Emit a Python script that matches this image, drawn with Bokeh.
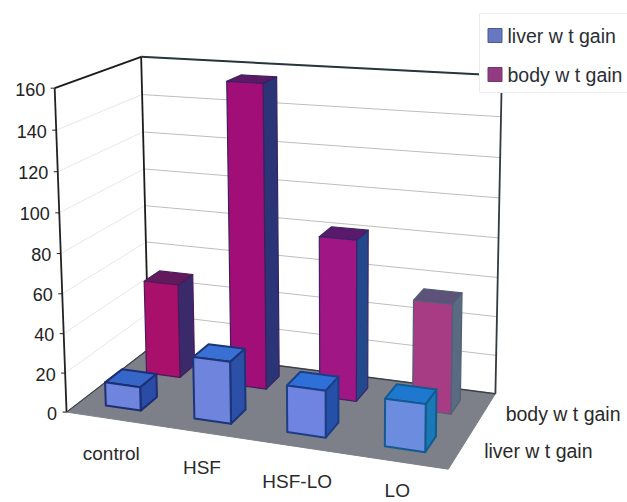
import numpy as np
from bokeh.core.properties import value
from bokeh.embed import file_html
from bokeh.models import ColumnDataSource, Range1d
from bokeh.plotting import figure
from bokeh.resources import INLINE

# Chart data
categories = ["control", "HSF", "HSF-LO", "LO"]
series_names = ["liver w t gain", "body w t gain"]
liver_gain = [12, 31, 23, 23]
body_gain = [49.5, 156, 82, 55]
y_ticks = [0, 20, 40, 60, 80, 100, 120, 140, 160]

FONT = "Liberation Sans"
BAR = 0.4

# Per-bar shading: (front, top, side, edge)
LIVER_STYLE = [
    ("#6f84dc", "#3566c8", "#2a4ca6", "#1c2f74"),
    ("#6f84dc", "#3a70d4", "#2c50a8", "#1c3478"),
    ("#6f84e0", "#2f70d8", "#2450a8", "#1c3e86"),
    ("#6c8ce0", "#1f78d0", "#1a78b4", "#125a90"),
]
BODY_STYLE = [
    ("#a8106c", "#621a5c", "#3a2a6a", "#4a1a5a"),
    ("#a20e78", "#5c1a64", "#2c3478", "#3a2060"),
    ("#a01684", "#5a1a6c", "#24488c", "#3c2468"),
    ("#a83c84", "#5e5278", "#5a6a80", "#4e6078"),
]

# Perspective camera for a box 4 categories wide, 2 series deep, 160 units tall,
# solved from where the box corners land on the page.
anchors = [
    ((0, 0, 0), (67, 411)), ((0, 0, 160), (53, 88)),
    ((0, 2, 0), (147, 349)), ((0, 2, 160), (142, 56)),
    ((4, 2, 0), (495, 393)), ((4, 2, 160), (501, 75)),
    ((4, 0, 0), (448, 469)),
]
rows = []
for (X, D, V), (u, w) in anchors:
    rows.append([X, D, V, 1, 0, 0, 0, 0, -u * X, -u * D, -u * V, -u])
    rows.append([0, 0, 0, 0, X, D, V, 1, -w * X, -w * D, -w * V, -w])
CAM = np.linalg.svd(np.array(rows, float))[2][-1].reshape(3, 4)


def proj(x, d, v):
    h = CAM @ np.array([x, d, v, 1.0])
    return h[0] / h[2], h[1] / h[2]


def face(points):
    pts = [proj(*q) for q in points]
    return [a for a, _ in pts], [b for _, b in pts]


p = figure(width=627, height=502, output_backend="svg", toolbar_location=None,
           x_range=Range1d(0, 627), y_range=Range1d(502, 0), min_border=0,
           x_axis_type=None, y_axis_type=None, background_fill_color="white",
           border_fill_color="white", outline_line_color=None)
p.grid.visible = False

# Floor
fx, fy = face([(0, 0, 0), (0, 2, 0), (4, 2, 0), (4, 0, 0)])
p.patch(fx, fy, fill_color="#7d8088", line_color="#7d8088")

# Wall gridlines
for t in y_ticks[1:]:
    ax, ay = face([(0, 0, t), (0, 2, t)])
    p.line(ax, ay, line_color="#e8e8e8", line_width=1)
    bx, by = face([(0, 2, t), (4, 2, t)])
    p.line(bx, by, line_color="#bdbdbd", line_width=1)

# Wall frame, including the dark seam where the back wall meets the floor
for a, b, col, w in [((0, 0, 0), (0, 0, 160), "#222222", 1.8),
                     ((0, 0, 160), (0, 2, 160), "#1c1c1c", 2),
                     ((0, 2, 0), (0, 2, 160), "#1c1c1c", 1.8),
                     ((0, 2, 160), (4, 2, 160), "#26363c", 2),
                     ((4, 2, 0), (4, 2, 160), "#333a40", 1.8),
                     ((0, 2, 0), (4, 2, 0), "#3c4048", 1.6),
                     ((0, 0, 0), (0, 2, 0), "#3c4048", 1.2)]:
    lx, ly = face([a, b])
    p.line(lx, ly, line_color=col, line_width=w)

# Tick marks and value labels on the front-left edge
tl_x, tl_y, tl_s = [], [], []
for t in y_ticks:
    ax, ay = proj(0, 0, t)
    p.line([ax - 4, ax], [ay, ay], line_color="#222222", line_width=1)
    tl_x.append(ax - 9.5)
    tl_y.append(ay + 1)
    tl_s.append(str(t))
p.text(tl_x, tl_y, text=tl_s, text_align="right", text_baseline="middle",
       text_font=value(FONT), text_font_size="18px", text_color="#222222")


def draw_bar(i, row, val, style, edge_width):
    front, top, side, edge = style
    x0, x1 = i + 0.5 - BAR / 2, i + 0.5 + BAR / 2
    d0, d1 = row + 0.5 - BAR / 2, row + 0.5 + BAR / 2
    faces = [
        ([(x1, d0, 0), (x1, d1, 0), (x1, d1, val), (x1, d0, val)], side),
        ([(x0, d0, val), (x0, d1, val), (x1, d1, val), (x1, d0, val)], top),
        ([(x0, d0, 0), (x1, d0, 0), (x1, d0, val), (x0, d0, val)], front),
    ]
    xs, ys, cols = [], [], []
    for pts, col in faces:
        a, b = face(pts)
        xs.append(a)
        ys.append(b)
        cols.append(col)
    src = ColumnDataSource(dict(xs=xs, ys=ys, c=cols))
    p.patches("xs", "ys", source=src, fill_color="c", line_color=edge,
              line_width=edge_width, line_join="round")


# Back row first so the nearer bars overlap it
for row, vals, styles, ew in [(1, body_gain, BODY_STYLE, 1.2), (0, liver_gain, LIVER_STYLE, 2)]:
    for i, val in enumerate(vals):
        draw_bar(i, row, val, styles[i], ew)

# Category labels follow the front edge of the floor, kept inside the page
cat_x, cat_y = [], []
for i in range(len(categories)):
    ax, ay = proj(i + 0.5, 0, 0)
    cat_x.append(ax + 1)
    cat_y.append(min(ay + 35, 490))
p.text(cat_x, cat_y, text=categories, text_align="center", text_baseline="middle",
       text_font=value(FONT), text_font_size="19px", text_color="#2a2a2a")

# Series labels along the right edge of the floor
ser_x, ser_y = [], []
for d, dx, dy in [(0.5, 23, 2), (1.5, 21, 3)]:
    ax, ay = proj(4, d, 0)
    ser_x.append(ax + dx)
    ser_y.append(ay + dy)
p.text(ser_x, ser_y, text=series_names, text_align="left", text_baseline="middle",
       text_font=value(FONT), text_font_size="19.5px", text_color="#2a2a2a")

# Legend box, swatches and entries
leg_swatch = ["#6878c0", "#943a80"]
leg_edge = ["#4a5a90", "#6a3a70"]
p.quad(left=[479], right=[640], top=[13], bottom=[92], fill_color="white",
       line_color="#ececec", line_width=1)
leg_y = [35, 74]
p.rect([494.5, 494.5], leg_y, width=14, height=14, fill_color=leg_swatch, line_color=leg_edge)
p.text([507, 507], leg_y, text=series_names, text_align="left", text_baseline="middle",
       text_font=value(FONT), text_font_size="19.5px", text_color="#2a2e36")

open("out.html", "w").write(file_html(p, INLINE))
